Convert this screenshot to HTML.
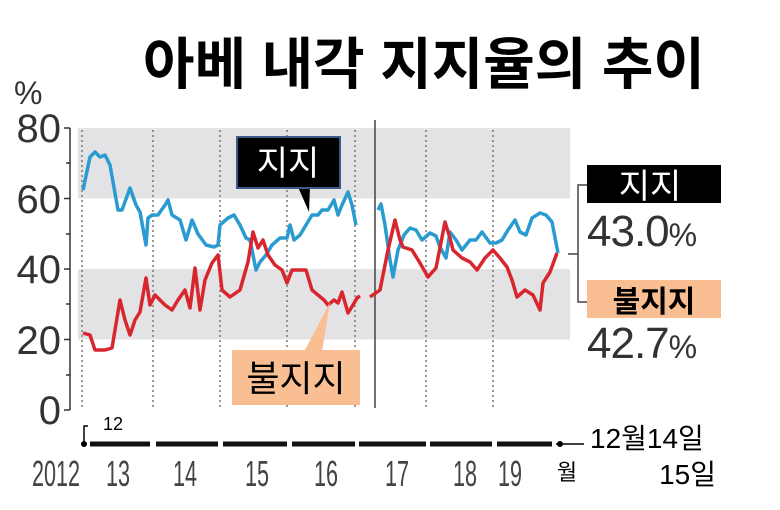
<!DOCTYPE html>
<html><head><meta charset="utf-8"><style>
body{margin:0;background:#fff;}
svg{display:block;}
.k{font-family:"Liberation Sans","Noto Sans CJK KR",sans-serif;}
</style></head><body>
<svg width="780" height="510" viewBox="0 0 780 510" xmlns="http://www.w3.org/2000/svg">
<rect width="780" height="510" fill="#fff"/>
<text x="424" y="84" text-anchor="middle" class="k" font-size="56" font-weight="bold" fill="#000">아베 내각 지지율의 추이</text>
<rect x="78" y="128" width="492" height="70.5" fill="#e3e3e5"/>
<rect x="78" y="269" width="492" height="70.5" fill="#e3e3e5"/>
<g stroke="#333" stroke-width="1.5" fill="none">
<line x1="70" y1="128" x2="70" y2="410"/>
<line x1="64" y1="128" x2="70" y2="128"/><line x1="64" y1="198.5" x2="70" y2="198.5"/>
<line x1="64" y1="269" x2="70" y2="269"/><line x1="64" y1="339.5" x2="70" y2="339.5"/>
<line x1="64" y1="410" x2="70" y2="410"/>
<line x1="66" y1="163" x2="70" y2="163"/><line x1="66" y1="234" x2="70" y2="234"/>
<line x1="66" y1="304" x2="70" y2="304"/><line x1="66" y1="375" x2="70" y2="375"/>
</g>
<g font-family="Liberation Sans,sans-serif" font-size="40" fill="#333" text-anchor="end">
<text x="61" y="142">80</text><text x="61" y="213">60</text><text x="61" y="283">40</text>
<text x="61" y="354">20</text><text x="61" y="424">0</text>
</g>
<text x="14" y="104" font-family="Liberation Sans,sans-serif" font-size="32" fill="#333">%</text>
<g stroke="#777" stroke-width="1.5" stroke-dasharray="2,3">
<line x1="82" y1="130" x2="82" y2="410"/><line x1="153" y1="130" x2="153" y2="410"/>
<line x1="220" y1="130" x2="220" y2="410"/><line x1="287" y1="130" x2="287" y2="410"/>
<line x1="355" y1="130" x2="355" y2="410"/><line x1="426" y1="130" x2="426" y2="410"/>
<line x1="493" y1="130" x2="493" y2="410"/>
</g>
<line x1="375" y1="120" x2="375" y2="408" stroke="#444" stroke-width="1.5"/>
<polyline fill="none" stroke="#2a9bd0" stroke-width="3.5" stroke-linejoin="round" points="83,190 90,157 95,152 100,157 105,155 110,165 118,210 122,210 130,188 136,205 140,212 146,245 148,218 152,215 158,215 165,205 168,200 172,215 180,220 186,240 192,220 198,234 206,245 214,247 218,245 220,225 228,218 234,215 240,225 246,238 250,240 256,270 260,262 266,255 272,245 280,238 287,238 290,225 294,240 300,235 306,225 312,215 318,215 322,210 328,210 334,200 338,215 342,205 348,192 352,205 356,225"/>
<polyline fill="none" stroke="#2a9bd0" stroke-width="3.5" stroke-linejoin="round" points="378,210 381,204 385,225 390,260 393,277 398,250 404,235 410,228 416,230 422,240 430,233 436,236 440,247 446,258 450,232 456,240 462,250 470,240 476,240 482,232 490,243 496,243 502,240 508,230 515,220 520,232 526,235 532,218 540,213 546,215 552,222 558,253"/>
<polyline fill="none" stroke="#d8262e" stroke-width="3.5" stroke-linejoin="round" points="83,333 90,335 95,350 105,350 112,348 120,300 125,320 130,335 135,320 140,312 146,278 150,305 155,295 165,305 172,310 178,300 185,290 190,308 195,268 200,310 205,280 212,263 218,255 222,290 230,297 240,290 248,262 253,232 258,248 263,240 268,255 275,265 282,270 287,283 292,270 300,270 306,270 312,290 318,295 324,300 328,305 334,300 338,303 342,292 348,313 353,305 357,298 360,296"/>
<polyline fill="none" stroke="#d8262e" stroke-width="3.5" stroke-linejoin="round" points="370,297 380,290 388,250 395,220 400,240 403,247 412,250 420,263 428,277 436,268 445,222 450,238 453,250 462,258 470,262 477,270 485,258 493,250 500,258 507,267 512,280 517,297 525,290 533,295 540,310 543,283 550,272 557,253"/>
<polygon points="298,187 310,187 309,212" fill="#000"/>
<rect x="237" y="137" width="103" height="51" fill="#000" stroke="#3a5b8a" stroke-width="2"/>
<text x="288" y="175" text-anchor="middle" class="k" font-size="34" fill="#fff">지지</text>
<polygon points="304,352 322,352 330,302" fill="#f9bf93"/>
<rect x="232" y="350" width="128" height="55" fill="#f9bf93"/>
<text x="296" y="391" text-anchor="middle" class="k" font-size="36" fill="#000">불지지</text>
<g stroke="#444" stroke-width="1.5" fill="none">
<polyline points="588,185 578,185 578,302 588,302"/>
<line x1="568" y1="254" x2="578" y2="254"/>
</g>
<rect x="587" y="165" width="134" height="38" fill="#000"/>
<text x="650" y="198" text-anchor="middle" class="k" font-size="34" fill="#fff">지지</text>
<text x="587" y="246" font-family="Liberation Sans,sans-serif" font-size="44" fill="#333" letter-spacing="-1">43.0<tspan font-size="32">%</tspan></text>
<rect x="587" y="280" width="134" height="38" fill="#f9bf93"/>
<text x="654" y="312" text-anchor="middle" class="k" font-size="30" font-weight="bold" fill="#000">불지지</text>
<text x="587" y="358" font-family="Liberation Sans,sans-serif" font-size="44" fill="#333" letter-spacing="-1">42.7<tspan font-size="32">%</tspan></text>
<polyline points="88,426 84,426 84,444" fill="none" stroke="#000" stroke-width="1.5"/>
<text x="103" y="430" class="k" font-size="18" fill="#000">12</text>
<g stroke="#111" stroke-width="5">
<line x1="90" y1="444" x2="150" y2="444"/><line x1="156" y1="444" x2="218" y2="444"/>
<line x1="223" y1="444" x2="287" y2="444"/><line x1="292" y1="444" x2="355" y2="444"/>
<line x1="359" y1="444" x2="426" y2="444"/><line x1="430" y1="444" x2="492" y2="444"/>
<line x1="497" y1="444" x2="552" y2="444"/>
</g>
<circle cx="84" cy="444" r="3" fill="#000"/><circle cx="560" cy="444" r="3" fill="#000"/>
<line x1="556" y1="444" x2="584" y2="444" stroke="#000" stroke-width="1.5"/>
<g font-family="Liberation Sans,sans-serif" font-size="36" fill="#444" text-anchor="middle">
<text transform="translate(56,486) scale(0.6,1)">2012</text>
<text transform="translate(118,486) scale(0.6,1)">13</text>
<text transform="translate(185,486) scale(0.6,1)">14</text>
<text transform="translate(257,486) scale(0.6,1)">15</text>
<text transform="translate(326,486) scale(0.6,1)">16</text>
<text transform="translate(397,486) scale(0.6,1)">17</text>
<text transform="translate(465,486) scale(0.6,1)">18</text>
<text transform="translate(510,486) scale(0.6,1)">19</text>
</g>
<text x="567" y="480" text-anchor="middle" class="k" font-size="22" fill="#000">월</text>
<text x="590" y="448" class="k" font-size="28" fill="#000">12월14일</text>
<text x="716" y="484" text-anchor="end" class="k" font-size="28" fill="#000">15일</text>
</svg>
</body></html>
